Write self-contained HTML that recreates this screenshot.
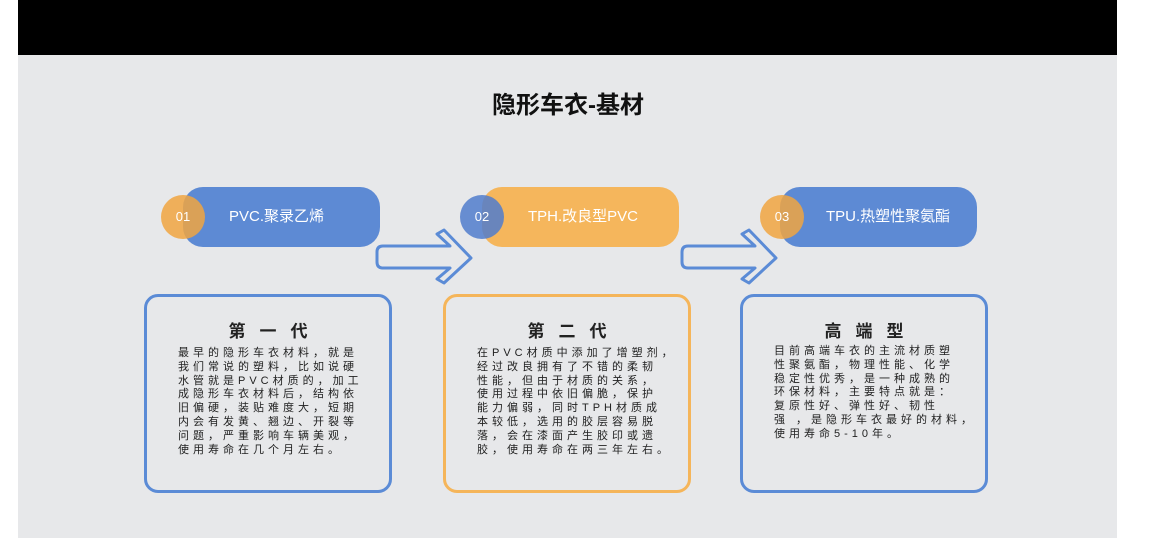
<!DOCTYPE html>
<html><head><meta charset="utf-8"><style>
*{margin:0;padding:0;box-sizing:border-box}
body{width:1152px;height:538px;background:#fff;position:relative;overflow:hidden;font-family:"Liberation Sans","Noto Sans CJK SC",sans-serif}
.bg{position:absolute;left:18px;top:0;width:1099px;height:538px;background:#e7e8ea}
.bar{position:absolute;left:18px;top:0;width:1099px;height:55px;background:#000}
.t{position:absolute;left:0;width:1136px;top:85px;text-align:center;font-size:24px;font-weight:bold;color:#111}
.pill{position:absolute;top:187px;width:197px;height:60px;border-radius:20px;color:#fff;font-size:15px;line-height:60px;padding-left:46px}
.c{position:absolute;top:195px;width:44px;height:44px;border-radius:50%;color:#fff;font-size:13px;line-height:44px;text-align:center}
.box{position:absolute;top:294px;width:248px;height:199px;border:3px solid #5b8bd6;border-radius:14px}
.h{position:absolute;width:100%;top:20px;text-align:center;font-size:17px;font-weight:bold;color:#222;letter-spacing:14px;padding-left:14px}
.tx{position:absolute;left:31px;top:50px;font-size:11px;letter-spacing:4px;line-height:13.8px;color:#222;white-space:pre}
</style></head><body>
<div class="bg"></div><div class="bar"></div>
<div class="t">隐形车衣-基材</div>

<div class="pill" style="left:183px;background:#5d8ad4">PVC.聚录乙烯</div>
<div class="c" style="left:161px;background:rgba(240,165,65,0.85)">01</div>
<div class="pill" style="left:482px;background:#f5b65c">TPH.改良型PVC</div>
<div class="c" style="left:460px;background:rgba(80,125,205,0.85)">02</div>
<div class="pill" style="left:780px;background:#5d8ad4">TPU.热塑性聚氨酯</div>
<div class="c" style="left:760px;background:rgba(240,165,65,0.85)">03</div>

<svg style="position:absolute;left:0;top:0" width="1152" height="538">
<g fill="none" stroke="#5b8bd6" stroke-width="3" stroke-linejoin="round">
<path d="M383 246 H450 L437 234 L444 230 L471 258 L444 283 L437 279 L450 268 H383 Q377 268 377 262 V252 Q377 246 383 246Z"/>
<path d="M688 246 H755 L742 234 L749 230 L776 258 L749 283 L742 279 L755 268 H688 Q682 268 682 262 V252 Q682 246 688 246Z"/>
</g></svg>

<div class="box" style="left:144px">
<div class="h">第一代</div>
<div class="tx">最早的隐形车衣材料，就是
我们常说的塑料，比如说硬
水管就是PVC材质的，加工
成隐形车衣材料后，结构依
旧偏硬，装贴难度大，短期
内会有发黄、翘边、开裂等
问题，严重影响车辆美观，
使用寿命在几个月左右。</div></div>
<div class="box" style="left:443px;border-color:#f5b55a">
<div class="h">第二代</div>
<div class="tx">在PVC材质中添加了增塑剂，
经过改良拥有了不错的柔韧
性能，但由于材质的关系，
使用过程中依旧偏脆，保护
能力偏弱，同时TPH材质成
本较低，选用的胶层容易脱
落，会在漆面产生胶印或遗
胶，使用寿命在两三年左右。</div></div>
<div class="box" style="left:740px">
<div class="h">高端型</div>
<div class="tx" style="top:48px">目前高端车衣的主流材质塑
性聚氨酯，物理性能、化学
稳定性优秀，是一种成熟的
环保材料，主要特点就是：
复原性好、弹性好、韧性
强 ，是隐形车衣最好的材料，
使用寿命5-10年。</div></div>
</body></html>
